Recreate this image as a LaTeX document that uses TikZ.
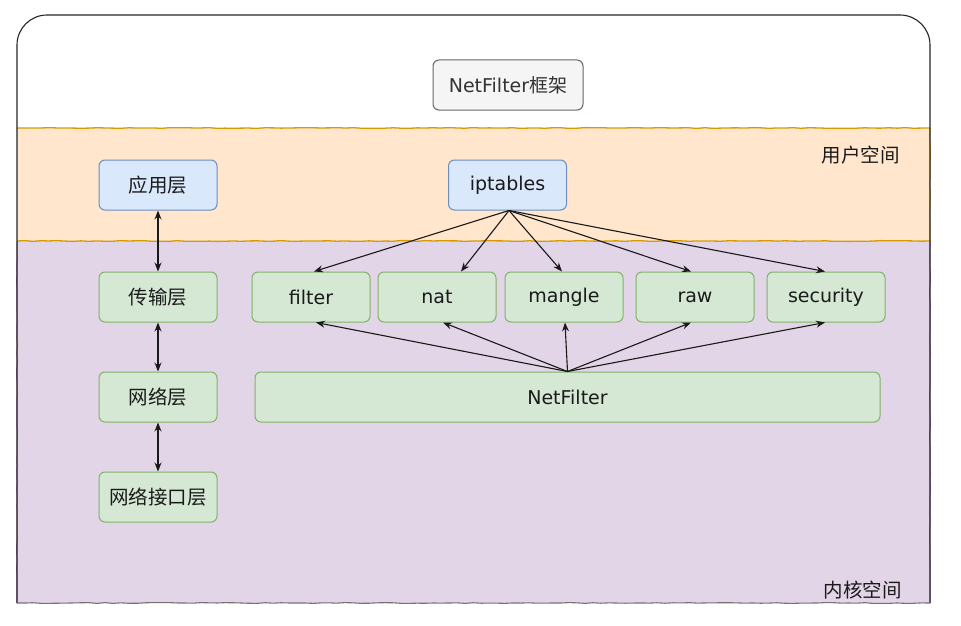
\documentclass[tikz,border=0pt]{standalone}
\usepackage{fontspec}
\setmainfont{DejaVu Sans}
\newfontfamily\cjk{Noto Sans CJK SC}
\usetikzlibrary{decorations.pathmorphing, arrows.meta}
\definecolor{orfill}{HTML}{FFE6CC}
\definecolor{ordraw}{HTML}{D79B00}
\definecolor{pufill}{HTML}{E1D5E7}
\definecolor{pudraw}{HTML}{9673A6}
\definecolor{blfill}{HTML}{DAE8FC}
\definecolor{bldraw}{HTML}{6C8EBF}
\definecolor{grfill}{HTML}{D5E8D4}
\definecolor{grdraw}{HTML}{82B366}
\definecolor{gyfill}{HTML}{F5F5F5}
\definecolor{gydraw}{HTML}{666666}
\definecolor{txt}{HTML}{1A1A1A}
\tikzset{
  wobble/.style={decorate, decoration={random steps, segment length=8pt, amplitude=0.4pt}},
  boxbase/.style={rounded corners=6pt, line width=1pt, minimum width=118pt, minimum height=50pt, inner sep=0pt, text=txt, font=\fontsize{19}{21}\selectfont},
  bluebox/.style={boxbase, fill=blfill, draw=bldraw},
  greenbox/.style={boxbase, fill=grfill, draw=grdraw},
  graybox/.style={boxbase, fill=gyfill, draw=gydraw, text=black!80},
  zh/.style={font=\cjk\fontsize{19.5}{21}\selectfont},
  arr/.style={-{Stealth[length=9pt,width=7pt,inset=3pt]}, line width=1.1pt, black!90},
  darr/.style={{Stealth[length=9pt,width=7pt,inset=3pt]}-{Stealth[length=9pt,width=7pt,inset=3pt]}, line width=1.1pt, black!90},
  spacelabel/.style={font=\cjk\fontsize{19.5}{21}\selectfont, text=txt, anchor=east, inner sep=0pt}
}
\begin{document}
\begin{tikzpicture}[x=1pt,y=-1pt]
\useasboundingbox (0,0) rectangle (961,626);
\fill[white] (0,0) rectangle (961,626);
% bands
\fill[orfill] (17,128) rectangle (930,241);
\fill[pufill] (17,241) rectangle (930,603);
\draw[wobble, ordraw, line width=1.3pt] (17,128) -- (930,128);
\draw[wobble, ordraw, line width=1.3pt] (17,241) -- (930,241);
\draw[wobble, pudraw, line width=1pt] (17,242) -- (17,603);
\draw[wobble, ordraw, line width=1pt] (930,128) -- (930,241);
\draw[wobble, pudraw, line width=1pt] (930,241) -- (930,603);
% outer frame
\draw[line width=1.1pt, black!85, rounded corners=30pt] (17,603) -- (17,15) -- (930,15) -- (930,603);
\draw[wobble, line width=1.1pt, black!55] (17,603) -- (930,603);
% space labels
\node[spacelabel] (us) at (900,155) {用户空间};
\node[spacelabel] (ks) at (902,590) {内核空间};
% nodes
\node[graybox, minimum width=150pt] (title) at (508,85) {NetFilter\cjk 框架};
\node[bluebox, zh] (app) at (158,185) {应用层};
\node[bluebox] (ipt) at (507.5,185) {iptables};
\node[greenbox, zh] (trans) at (158,297) {传输层};
\node[greenbox] (filter) at (311,297) {filter};
\node[greenbox] (nat) at (437,297) {nat};
\node[greenbox] (mangle) at (564,297) {mangle};
\node[greenbox] (raw) at (695,297) {raw};
\node[greenbox] (sec) at (826,297) {security};
\node[greenbox, minimum width=625pt] (nf) at (567.5,397) {NetFilter};
\node[greenbox, zh] (net) at (158,397) {网络层};
\node[greenbox, zh] (nif) at (158,497) {网络接口层};
% left stack
\draw[darr] (app.south) -- (trans.north);
\draw[darr] (trans.south) -- (net.north);
\draw[darr] (net.south) -- (nif.north);
% iptables fan
\coordinate (ipts) at ([xshift=1.5pt]ipt.south);
\draw[arr] (ipts) -- ([xshift=3pt]filter.north);
\draw[arr] (ipts) -- ([xshift=24pt]nat.north);
\draw[arr] (ipts) -- ([xshift=-2pt]mangle.north);
\draw[arr] (ipts) -- ([xshift=-4pt]raw.north);
\draw[arr] (ipts) -- ([xshift=-1pt]sec.north);
% netfilter fan
\coordinate (nfn) at (nf.north);
\draw[arr] (nfn) -- ([xshift=5pt]filter.south);
\draw[arr] (nfn) -- ([xshift=6pt]nat.south);
\draw[arr] (nfn) -- ([xshift=1pt]mangle.south);
\draw[arr] (nfn) -- ([xshift=-4pt]raw.south);
\draw[arr] (nfn) -- ([xshift=-1pt]sec.south);
\end{tikzpicture}
\end{document}
